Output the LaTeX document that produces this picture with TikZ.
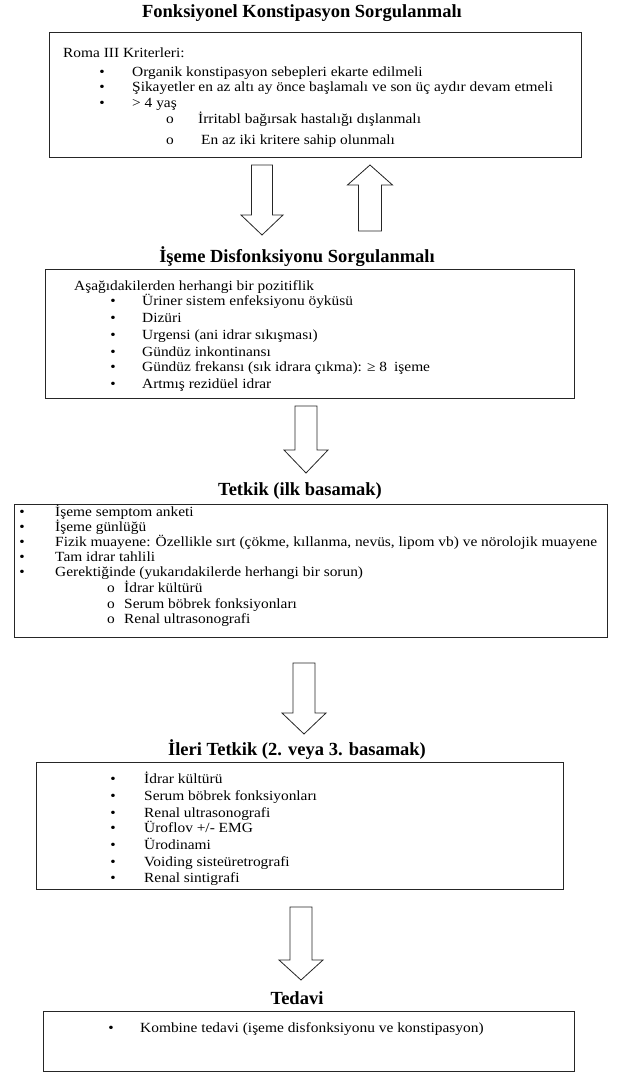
\documentclass[tikz,border=0pt]{standalone}
\usepackage{fontspec}
\setmainfont{Liberation Serif}
\newfontfamily\bodyfont{Liberation Serif}[FakeStretch=1.1]
\begin{document}
\begin{tikzpicture}[x=1pt,y=-1pt,
  title/.style={font=\fontsize{18.5}{20}\selectfont\bfseries, inner sep=0pt, anchor=center},
  txt/.style={font=\bodyfont\fontsize{14}{16}\selectfont, inner sep=0pt, anchor=base west},
  bul/.style={font=\bodyfont\fontsize{14}{16}\selectfont, inner sep=0pt, anchor=base},
  box/.style={draw=black!85, line width=1.3pt, inner sep=0pt, anchor=north west},
  blockarrow/.style={draw=black!85, line width=0.8pt, fill=white, line join=miter}]
\useasboundingbox (0,0) rectangle (617,1073);
% ---------- Box 1
\node[title] (t1) at (302,13) {Fonksiyonel Konstipasyon Sorgulanmalı};
\node[box, minimum width=532pt, minimum height=125pt] (b1) at (49,32) {};
\node[txt] (b1h) at (63,58) {Roma III Kriterleri:};
\node[bul] (b1p1) at (102,76) {•}; \node[txt] (b1l1) at (132,76) {Organik konstipasyon sebepleri ekarte edilmeli};
\node[bul] (b1p2) at (102,92) {•}; \node[txt] (b1l2) at (132,92) {Şikayetler en az altı ay önce başlamalı ve son üç aydır devam etmeli};
\node[bul] (b1p3) at (102,107) {•}; \node[txt] (b1l3) at (132,107) {> 4 yaş};
\node[bul] (b1s1) at (170,123) {o}; \node[txt] (b1m1) at (198,123) {İrritabl bağırsak hastalığı dışlanmalı};
\node[bul] (b1s2) at (170,144) {o}; \node[txt] (b1m2) at (201,144) {En az iki kritere sahip olunmalı};
% ---------- Box 2
\node[title] (t2) at (297,257) {İşeme Disfonksiyonu Sorgulanmalı};
\node[box, minimum width=529pt, minimum height=129pt] (b2) at (45,269) {};
\node[txt] (b2h) at (74,290) {Aşağıdakilerden herhangi bir pozitiflik};
\node[bul] (b2p1) at (113,305) {•}; \node[txt] (b2l1) at (142,305) {Üriner sistem enfeksiyonu öyküsü};
\node[bul] (b2p2) at (113,322) {•}; \node[txt] (b2l2) at (142,322) {Dizüri};
\node[bul] (b2p3) at (113,339) {•}; \node[txt] (b2l3) at (142,339) {Urgensi (ani idrar sıkışması)};
\node[bul] (b2p4) at (113,356) {•}; \node[txt] (b2l4) at (142,356) {Gündüz inkontinansı};
\node[bul] (b2p5) at (113,371) {•}; \node[txt] (b2l5) at (142,371) {Gündüz frekansı (sık idrara çıkma): ≥ 8\enspace işeme};
\node[bul] (b2p6) at (113,388) {•}; \node[txt] (b2l6) at (142,388) {Artmış rezidüel idrar};
% ---------- Box 3
\node[title] (t3) at (300,491) {Tetkik (ilk basamak)};
\node[box, minimum width=593pt, minimum height=133pt] (b3) at (14,504) {};
\node[bul] (b3p1) at (22,516) {•}; \node[txt] (b3l1) at (55,516) {İşeme semptom anketi};
\node[bul] (b3p2) at (22,531) {•}; \node[txt] (b3l2) at (55,531) {İşeme günlüğü};
\node[bul] (b3p3) at (22,546) {•}; \node[txt] (b3l3) at (55,546) {Fizik muayene: Özellikle sırt (çökme, kıllanma, nevüs, lipom vb) ve nörolojik muayene};
\node[bul] (b3p4) at (22,561) {•}; \node[txt] (b3l4) at (55,561) {Tam idrar tahlili};
\node[bul] (b3p5) at (22,576) {•}; \node[txt] (b3l5) at (55,576) {Gerektiğinde (yukarıdakilerde herhangi bir sorun)};
\node[bul] (b3s1) at (111,592) {o}; \node[txt] (b3m1) at (124,592) {İdrar kültürü};
\node[bul] (b3s2) at (111,608) {o}; \node[txt] (b3m2) at (124,608) {Serum böbrek fonksiyonları};
\node[bul] (b3s3) at (111,623) {o}; \node[txt] (b3m3) at (124,623) {Renal ultrasonografi};
% ---------- Box 4
\node[title] (t4) at (297,750) {İleri Tetkik (2. veya 3. basamak)};
\node[box, minimum width=527pt, minimum height=127pt] (b4) at (36,762) {};
\node[bul] (b4p1) at (113,783) {•}; \node[txt] (b4l1) at (144,783) {İdrar kültürü};
\node[bul] (b4p2) at (113,800) {•}; \node[txt] (b4l2) at (144,800) {Serum böbrek fonksiyonları};
\node[bul] (b4p3) at (113,817) {•}; \node[txt] (b4l3) at (144,817) {Renal ultrasonografi};
\node[bul] (b4p4) at (113,832) {•}; \node[txt] (b4l4) at (144,832) {Üroflov +/- EMG};
\node[bul] (b4p5) at (113,849) {•}; \node[txt] (b4l5) at (144,849) {Ürodinami};
\node[bul] (b4p6) at (113,866) {•}; \node[txt] (b4l6) at (144,866) {Voiding sisteüretrografi};
\node[bul] (b4p7) at (113,882) {•}; \node[txt] (b4l7) at (144,882) {Renal sintigrafi};
% ---------- Box 5
\node[title] (t5) at (297,998) {Tedavi};
\node[box, minimum width=531pt, minimum height=60pt] (b5) at (43,1011) {};
\node[bul] (b5p1) at (111,1032) {•}; \node[txt] (b5l1) at (140,1032) {Kombine tedavi (işeme disfonksiyonu ve konstipasyon)};
% ---------- block arrows
\coordinate (a1) at (262,165);
\draw[blockarrow] (a1) ++(-10.5,0) -- ++(0,50) -- ++(-10.5,0) -- ++(21,20) -- ++(21,-20) -- ++(-10.5,0) -- ++(0,-50) -- cycle;
\coordinate (a0) at (370,165);
\draw[blockarrow] (a0) -- ++(22.5,20) -- ++(-11,0) -- ++(0,46) -- ++(-23,0) -- ++(0,-46) -- ++(-11,0) -- cycle;
\coordinate (a2) at (306,406);
\draw[blockarrow] (a2) ++(-11,0) -- ++(0,44) -- ++(-11,0) -- ++(22,23) -- ++(22,-23) -- ++(-11,0) -- ++(0,-44) -- cycle;
\coordinate (a3) at (304,663);
\draw[blockarrow] (a3) ++(-11,0) -- ++(0,50) -- ++(-11,0) -- ++(22,21) -- ++(22,-21) -- ++(-11,0) -- ++(0,-50) -- cycle;
\coordinate (a4) at (301,907);
\draw[blockarrow] (a4) ++(-11,0) -- ++(0,53) -- ++(-11,0) -- ++(22,20) -- ++(22,-20) -- ++(-11,0) -- ++(0,-53) -- cycle;
\end{tikzpicture}
\end{document}
